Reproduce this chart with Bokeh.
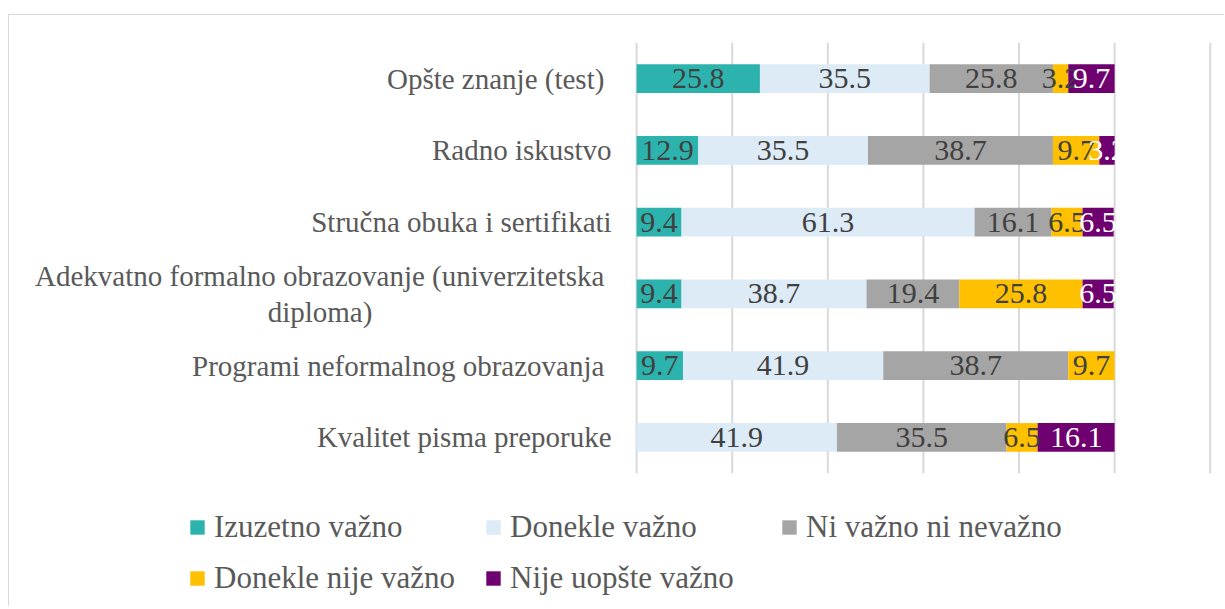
from bokeh.plotting import figure
from bokeh.models import ColumnDataSource, Range1d, Legend, LegendItem
from bokeh.core.properties import value
from bokeh.embed import file_html
from bokeh.resources import INLINE

categories = [
    "Opšte znanje (test)",
    "Radno iskustvo",
    "Stručna obuka i sertifikati",
    "Adekvatno formalno obrazovanje (univerzitetska diploma)",
    "Programi neformalnog obrazovanja",
    "Kvalitet pisma preporuke",
]
# how each category label is displayed (Excel-like wrapping / spacing)
category_display = [
    "Opšte znanje (test) ",
    "Radno iskustvo",
    "Stručna obuka i sertifikati",
    "Adekvatno formalno obrazovanje (univerzitetska \ndiploma)" + "\u00a0" * 33,
    "Programi neformalnog obrazovanja ",
    "Kvalitet pisma preporuke",
]
series = ["Izuzetno važno", "Donekle važno", "Ni važno ni nevažno",
          "Donekle nije važno", "Nije uopšte važno"]
izuzetno = [25.8, 12.9, 9.4, 9.4, 9.7, 0]
donekle = [35.5, 35.5, 61.3, 38.7, 41.9, 41.9]
ni_vazno = [25.8, 38.7, 16.1, 19.4, 38.7, 35.5]
donekle_nije = [3.2, 9.7, 6.5, 25.8, 9.7, 6.5]
nije = [9.7, 3.2, 6.5, 6.5, 0, 16.1]
grid_ticks = [0, 20, 40, 60, 80, 100, 120]

data = [izuzetno, donekle, ni_vazno, donekle_nije, nije]
colors = ["#2DB3AE", "#DDEBF7", "#A5A5A5", "#FFC000", "#6E0070"]
text_colors = ["#404040", "#404040", "#404040", "#404040", "#FFFFFF"]

n = len(categories)
ypos = [-i for i in range(n)]          # first category on top

p = figure(width=1216, height=592,
           x_range=Range1d(-131.2, 123.2), y_range=Range1d(-7.37, 0.88),
           output_backend="svg", toolbar_location=None,
           min_border=0, min_border_left=0, min_border_right=0,
           min_border_top=0, min_border_bottom=0)
p.styles = {"border-top": "1px solid #d9d9d9",
            "border-left": "1px solid #d9d9d9",
            "margin-top": "14px", "margin-left": "8px"}
p.axis.visible = False
p.grid.visible = False
p.outline_line_color = None

# vertical gridlines spanning the category bands
p.segment(x0=grid_ticks, x1=grid_ticks,
          y0=[max(ypos) + 0.5] * len(grid_ticks),
          y1=[min(ypos) - 0.5] * len(grid_ticks),
          line_color="#D9D9D9", line_width=2)

# category labels
p.text(x=[0] * n, y=ypos, text=category_display, x_offset=-25,
       text_font=value("Liberation Serif"), text_font_size="29px",
       text_color="#595959", text_align="right", text_baseline="middle",
       text_line_height=1.1)

cum = [0.0] * n
sources = []
items = []
for name, vals, col in zip(series, data, colors):
    left = cum[:]
    right = [l + v for l, v in zip(left, vals)]
    cum = right
    src = ColumnDataSource(dict(
        y=ypos, left=left, right=right,
        mid=[(l + r) / 2 for l, r in zip(left, right)],
        lab=[f"{v:.1f}" if v > 0 else "" for v in vals]))
    sources.append(src)
    r = p.hbar(y="y", left="left", right="right", height=0.4, source=src,
               fill_color=col, line_color=None)
    items.append(LegendItem(label=name, renderers=[r]))

for src, tc in zip(sources, text_colors):
    p.text(x="mid", y="y", text="lab", source=src,
           text_font=value("Liberation Serif"), text_font_size="30px",
           text_color=tc, text_align="center", text_baseline="middle")

legend = Legend(items=items, location=(179, 11), orientation="horizontal",
                ncols=3, glyph_width=18, glyph_height=18,
                label_text_font="Liberation Serif", label_text_font_size="31px",
                label_text_color="#595959", label_standoff=8, label_width=255,
                spacing=15, padding=0, margin=0,
                border_line_color=None, background_fill_alpha=0)
p.add_layout(legend, "center")

open("out.html", "w").write(file_html(p, INLINE))
